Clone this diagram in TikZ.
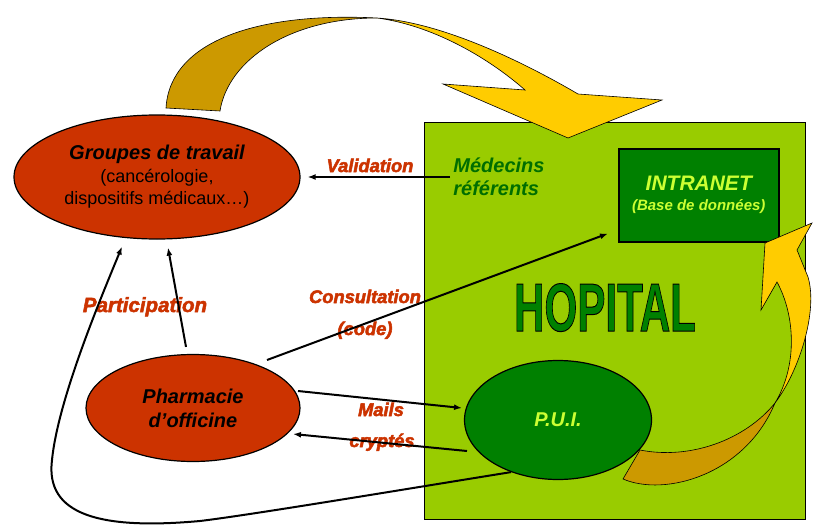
\documentclass[tikz,border=0pt]{standalone}
\usepackage{fontspec}
\setmainfont{Liberation Sans}
\usetikzlibrary{shapes.geometric,arrows.meta,calc}
\definecolor{redor}{HTML}{CC3300}
\definecolor{lgreen}{HTML}{99CC00}
\definecolor{dgreen}{HTML}{008000}
\definecolor{ltext}{HTML}{CCFF33}
\definecolor{goldc}{HTML}{CC9900}
\definecolor{yelc}{HTML}{FFCC00}
\definecolor{medgreen}{HTML}{006E00}
\newcommand{\stroked}[2]{\special{pdf:literal 2 Tr #1 w}#2\special{pdf:literal 0 Tr}}
\begin{document}
\begin{tikzpicture}[x=1pt,y=-1pt,
  conn/.style={line width=2pt, -{Latex[length=8pt,width=6pt]}},
  redell/.style={ellipse, draw=black, line width=1.2pt, fill=redor, inner sep=0pt, align=center},
  lbl/.style={text=redor, font=\fontsize{18.3}{22}\selectfont\bfseries\itshape, inner sep=0pt, anchor=base},
  ribbon/.style={draw=black, line width=0.6pt}]
\useasboundingbox (0,0) rectangle (818,524);
\fill[white] (0,0) rectangle (818,524);

% hospital area
\node[draw=black, line width=1.2pt, fill=lgreen, minimum width=381pt, minimum height=397pt, inner sep=0pt, anchor=north west] (hopbox) at (424,122) {};

\node[font=\fontsize{68}{68}\selectfont\bfseries, text=dgreen, xscale=0.62, transform shape, anchor=base, inner sep=0pt] (hopital) at (605,331) {\special{pdf:literal 2 Tr 1 w 0 0 0 RG}HOPITAL\special{pdf:literal 0 Tr}};

% P.U.I.
\node[ellipse, draw=black, line width=1.2pt, fill=dgreen, minimum width=187pt, minimum height=119pt, inner sep=0pt, text=ltext, font=\fontsize{20}{24}\selectfont\bfseries\itshape] (pui) at (558,420) {P.U.I.};

% INTRANET
\node[draw=black, line width=1.5pt, fill=dgreen, minimum width=160pt, minimum height=93pt, inner sep=0pt, anchor=north west, text=ltext, align=center, font=\fontsize{15}{20}\selectfont\bfseries\itshape] (intranet) at (618,148) {{\fontsize{21}{24}\selectfont INTRANET}\\(Base de données)};

% return arrow (PUI -> INTRANET)
\draw[ribbon, fill=goldc] (623,479) .. controls (665,497) and (745,475) .. (775,403) .. controls (745,440) and (690,460) .. (640,450) -- cycle;
\draw[ribbon, fill=yelc] (775,403) .. controls (800,370) and (818,310) .. (808,277) -- (797,250) -- (812,223) -- (765,243) -- (761,310) -- (777,282) .. controls (795,315) and (798,365) .. (775,403) -- cycle;

% top arrow (Groupes -> HOPITAL)
\draw[ribbon, fill=goldc] (166,108) .. controls (170,40) and (260,12) .. (377,18) .. controls (290,18) and (228,60) .. (220,111) -- cycle;
\draw[ribbon, fill=yelc] (377,18) .. controls (440,22) and (520,60) .. (578,94) -- (662,100) -- (568,138) -- (443,84) -- (525,90) .. controls (485,55) and (430,25) .. (377,18) -- cycle;

% red ellipses
\node[redell, minimum width=286pt, minimum height=124pt, font=\fontsize{18}{22.5}\selectfont] (groupes) at (157,177)
  {{\fontsize{20}{22.5}\selectfont\bfseries\itshape Groupes de travail}\\(cancérologie,\\dispositifs médicaux…)};
\node[redell, minimum width=214pt, minimum height=107pt, font=\fontsize{20}{24}\selectfont\bfseries\itshape] (pharm) at (193,408)
  {Pharmacie\\d’officine};

% Médecins référents
\node[text=medgreen, font=\fontsize{20}{23}\selectfont\bfseries\itshape, align=left, inner sep=3pt] (medecins) at (499,177) {Médecins\\référents};

% labels
\node[lbl] (lval) at (370,172) {\stroked{0.5}{Validation}};
\node[lbl, font=\fontsize{20.5}{24}\selectfont\bfseries\itshape] (lpart) at (145,312) {\stroked{0.5}{Participation}};
\node[lbl] (lcons) at (365,303) {\stroked{0.5}{Consultation}};
\node[lbl] (lcode) at (365,335) {\stroked{0.5}{(code)}};
\node[lbl] (lmails) at (381,416) {\stroked{0.5}{Mails}};
\node[lbl] (lcrypt) at (382,447) {\stroked{0.5}{cryptés}};

% connectors
\draw[conn] (medecins.west) -- ($(medecins.west -| groupes.east)+(7,0)$);
\draw[conn] ($(pharm.north)+(-7,-7)$) -- ($(groupes.south)+(11,8)$);
\draw[conn] (pui.228) .. controls (400,490) and (250,515) .. (200,521)
  .. controls (100,530) and (45,515) .. (52,460)
  .. controls (58,400) and (100,300) .. ($(groupes.south)+(-35,7)$);
\draw[conn] ($(pharm)+(74,-48)$) -- ($(intranet.south west)+(-10,-9)$);
\draw[conn] ($(pharm)+(105,-17)$) -- ($(pui)+(-96,-12)$);
\draw[conn] ($(pui)+(-91,31)$) -- ($(pharm)+(100,26)$);
\end{tikzpicture}
\end{document}
